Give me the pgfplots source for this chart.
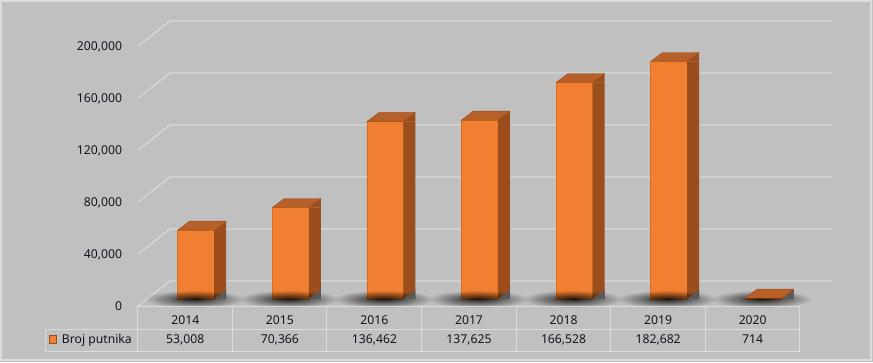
\documentclass[border=0pt]{standalone}
\usepackage{pgfplots}
\pgfplotsset{compat=1.18}
\usepackage{pgfplotstable}
\usetikzlibrary{calc,fadings}
\usepackage{fontspec}
\setmainfont{Noto Sans}
\definecolor{bgc}{HTML}{C0C0C0}
\definecolor{gridc}{HTML}{D9D9D9}
\definecolor{framec}{HTML}{DCDCDC}
\definecolor{frontc}{HTML}{F07F31}
\definecolor{frontedge}{HTML}{D8701F}
\definecolor{sidec}{HTML}{9B4E1C}
\definecolor{topc}{HTML}{B8602A}
\definecolor{shadc}{HTML}{5A5A5A}
\definecolor{txtc}{HTML}{141420}
\newcommand\tfont{\fontsize{12.2}{14}\selectfont}
\pgfdeclarelayer{bg}
\pgfsetlayers{bg,main}

\pgfplotstableread{
year x v
2014 0.5 53008
2015 1.5 70366
2016 2.5 136462
2017 3.5 137625
2018 4.5 166528
2019 5.5 182682
2020 6.5 714
}\data

\tikzfading[name=shfade, inner color=transparent!15, outer color=transparent!100]

% top face of a bar (origin = top of bar, category centre)
\pgfdeclareplotmark{topface}{%
  \pgfpathmoveto{\pgfqpoint{-16.55pt}{0pt}}%
  \pgfpathlineto{\pgfqpoint{19.95pt}{0pt}}%
  \pgfpathlineto{\pgfqpoint{31.95pt}{9pt}}%
  \pgfpathlineto{\pgfqpoint{-4.55pt}{9pt}}%
  \pgfpathclose\pgfusepathqfillstroke}
% triangle piece of the side face
\pgfdeclareplotmark{tri}{%
  \pgfpathmoveto{\pgfqpoint{19.95pt}{0pt}}%
  \pgfpathlineto{\pgfqpoint{31.95pt}{0pt}}%
  \pgfpathlineto{\pgfqpoint{31.95pt}{9pt}}%
  \pgfpathclose\pgfusepathqfill}
% soft shadow on the floor
\pgfdeclareplotmark{shadowmark}{%
  \fill[black, path fading=shfade, shift={(10pt,6.5pt)}, xslant=0.9]
    (0pt,0pt) ellipse [x radius=50pt, y radius=8.5pt];}

\begin{document}
\begin{tikzpicture}[x=1pt,y=1pt]
\begin{axis}[
  scale only axis,
  width=662pt, height=260pt,
  xmin=0, xmax=7, ymin=0, ymax=200000,
  clip=false,
  axis line style={draw=none}, tick style={draw=none},
  xtick={0.5,1.5,2.5,3.5,4.5,5.5,6.5},
  xticklabels from table={\data}{year},
  ytick={0,40000,80000,120000,160000,200000},
  scaled y ticks=false,
  /pgf/number format/assume math mode=true,
  yticklabel style={/pgf/number format/fixed, /pgf/number format/1000 sep={,}},
  tick label style={font=\tfont, text=txtc, inner sep=0pt},
  yticklabel style={anchor=base east, xshift=-24.7pt, yshift=-11.2pt},
  xticklabel style={anchor=base, xshift=-9pt, yshift=-25.3pt},
]
\coordinate (O) at (axis cs:0,0);
\pgfplotsinvokeforeach{0,40000,80000,120000,160000,200000}{
  \draw[gridc, line width=1.2pt] ([shift={(-9pt,-7pt)}]axis cs:0,#1)
     -- ([shift={(23pt,18pt)}]axis cs:0,#1) -- ([shift={(23pt,18pt)}]axis cs:7,#1);
}
% shadows
\addplot[only marks, mark=shadowmark, forget plot] table[x=x, y expr=0] {\data};
% front faces
\addplot[ybar, bar width=36.5pt, bar shift=1.7pt, fill=frontc, draw=frontedge, line width=0.5pt, forget plot] table[x=x, y=v] {\data};
% side faces
\addplot[ybar, bar width=12pt, bar shift=25.95pt, fill=sidec, draw=none, forget plot] table[x=x, y=v] {\data};
\addplot[only marks, mark=tri, mark options={fill=sidec}, forget plot] table[x=x, y=v] {\data};
\addplot[only marks, mark=tri, mark options={fill=shadc}, forget plot] table[x=x, y expr=0] {\data};
% top faces
\addplot[only marks, mark=topface, mark options={fill=topc, draw=sidec, line width=0.4pt}, forget plot] table[x=x, y=v] {\data};
% data table values
\addplot[draw=none, mark=none, point meta=explicit, nodes near coords,
  nodes near coords style={font=\tfont, text=txtc, anchor=base, inner sep=0pt,
    xshift=-9pt, yshift=-44.5pt, /pgf/number format/fixed, /pgf/number format/1000 sep={,}},
  forget plot] table[x=x, y expr=0, meta=v] {\data};
\end{axis}
\begin{scope}[shift={($(O)-(147,63)$)}]
\begin{pgfonlayer}{bg}
\fill[bgc] (0,0) rectangle (873,362);
\draw[framec, line width=1.2pt] (1,2) rectangle (871,361);
\end{pgfonlayer}
% table grid
\draw[framec, line width=1pt] (137.7,56) -- (799.9,56);
\draw[framec, line width=1pt] (45.3,33) -- (799.9,33);
\draw[framec, line width=1pt] (45.3,11) -- (799.9,11);
\draw[framec, line width=1pt] (45.3,11) -- (45.3,33);
\foreach \k in {0,...,7}{\draw[framec, line width=1pt] ({137.7+94.6*\k},11) -- ({137.7+94.6*\k},56);}
% legend key
\filldraw[fill=frontc, draw=sidec, line width=0.6pt] (49.3,19) rectangle (56.7,26.3);
\node[anchor=base west, inner sep=0pt, font=\tfont, text=txtc] at (61.7,18.5) {Broj putnika};
\end{scope}
\end{tikzpicture}
\end{document}
